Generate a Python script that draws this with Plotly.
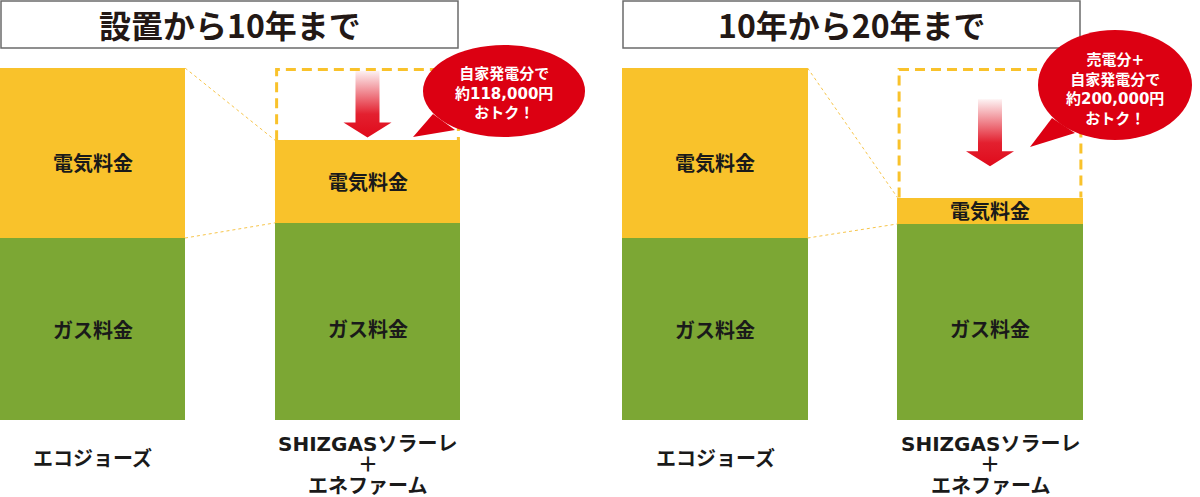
import plotly.graph_objects as go

# data (bar heights in relative units, 100 = エコジョーズ total)
categories = ["エコジョーズ", "SHIZGASソラーレ<br>＋<br>エネファーム"]
panel_titles = ["設置から10年まで", "10年から20年まで"]
gas_10y = [51.7, 56.0]
elec_10y = [48.3, 23.5]
gas_20y = [51.7, 55.7]
elec_20y = [48.3, 7.5]
segment_names = ["ガス料金", "電気料金"]
savings_text = [
    "自家発電分で<br>約118,000円<br>おトク！",
    "売電分+<br>自家発電分で<br>約200,000円<br>おトク！",
]

W, H = 1200, 497
FONT = "Noto Sans CJK JP"
MIXED = "DejaVu Sans, Noto Sans CJK JP"
YELLOW = "#F9C22B"
GREEN = "#7CA734"
RED = "#DC0012"
BAR_W = 0.673
PX_PER_UNIT = 3.52  # y pixels per data unit
X_UNIT = 275.0      # x pixels per category step


def px(x):
    return x / W


def py(y):
    return 1 - y / H


fig = go.Figure()
panels = [("x", gas_10y, elec_10y), ("x2", gas_20y, elec_20y)]

for xa, gas, elec in panels:
    fig.add_trace(go.Bar(x=[0, 1], y=gas, xaxis=xa, yaxis="y", width=BAR_W,
                         marker=dict(color=GREEN, line=dict(width=0)),
                         name=segment_names[0], hoverinfo="skip"))
    fig.add_trace(go.Bar(x=[0, 1], y=elec, xaxis=xa, yaxis="y", width=BAR_W,
                         marker=dict(color=YELLOW, line=dict(width=0)),
                         name=segment_names[1], hoverinfo="skip"))

    total0 = gas[0] + elec[0]
    total1 = gas[1] + elec[1]

    # segment labels
    for i in range(2):
        fig.add_annotation(x=i, y=gas[i] / 2, xref=xa, yref="y", showarrow=False,
                           xanchor="center", yanchor="middle",
                           text=segment_names[0], yshift=-7 if i == 1 else 0,
                           font=dict(family=FONT, size=20, color="#1a1a1a", weight="bold"))
        fig.add_annotation(x=i, y=gas[i] + elec[i] / 2, xref=xa, yref="y", showarrow=False,
                           xanchor="center", yanchor="middle",
                           text=segment_names[1], yshift=-9 if i == 0 else 0,
                           font=dict(family=FONT, size=20, color="#1a1a1a", weight="bold"))

    # connecting dotted lines
    for y0, y1 in [(total0, total1), (gas[0], gas[1])]:
        fig.add_shape(type="line", xref=xa, yref="y", x0=BAR_W / 2, x1=1 - BAR_W / 2,
                      y0=y0, y1=y1, line=dict(color="#F7C54A", width=1, dash="dot"))

    # dashed outline of the saved portion
    xl, xrt = 1 - BAR_W / 2 + 0.006, 1 + BAR_W / 2 - 0.006
    fig.add_shape(type="path", xref=xa, yref="y",
                  path=f"M {xl},{total1} L {xl},{total0 - 0.4} L {xrt},{total0 - 0.4} L {xrt},{total1}",
                  line=dict(color=YELLOW, width=3, dash="10px,6px"))

    # gradient arrow, centred in the gap
    gap_mid = (total0 + total1) / 2
    top = gap_mid + 9.5
    tip = gap_mid - 9.5
    head = tip + 15 / PX_PER_UNIT
    sw = 12 / X_UNIT
    hw = 24 / X_UNIT
    ax = [1 - sw, 1 + sw, 1 + sw, 1 + hw, 1, 1 - hw, 1 - sw, 1 - sw]
    ay = [top, top, head, head, tip, head, head, top]
    fig.add_trace(go.Scatter(x=ax, y=ay, xaxis=xa, yaxis="y", mode="lines",
                             fill="toself", line=dict(width=0),
                             fillgradient=dict(type="vertical",
                                               colorscale=[[0, "#E00A1B"], [0.35, "#E3202F"],
                                                           [1, "#FDF2F3"]]),
                             hoverinfo="skip", showlegend=False))

# title boxes
title_boxes = [(1, 458), (623, 1080)]
for (x0, x1), t in zip(title_boxes, panel_titles):
    fig.add_shape(type="rect", xref="paper", yref="paper", x0=px(x0), x1=px(x1),
                  y0=py(48), y1=py(1), line=dict(color="#6b6b6b", width=1.5),
                  fillcolor="white", layer="below")
    fig.add_annotation(x=px((x0 + x1) / 2), y=py(24), xref="paper", yref="paper",
                       xanchor="center", yanchor="middle",
                       showarrow=False, text=t,
                       font=dict(family=FONT, size=32, color="#231815", weight="bold"))

# speech bubbles
bubbles = [
    dict(cx=504, cy=91, rx=81, ry=46, tail=[(433, 114), (413, 137), (455, 130)], ty=93),
    dict(cx=1115, cy=85, rx=77, ry=55, tail=[(1052, 118), (1030, 147), (1075, 133)], ty=90),
]
for b, txt in zip(bubbles, savings_text):
    tail = b["tail"]
    path = "M " + " L ".join(f"{px(x)},{py(y)}" for x, y in tail) + " Z"
    fig.add_shape(type="path", xref="paper", yref="paper", path=path,
                  fillcolor=RED, line=dict(width=0))
    fig.add_shape(type="circle", xref="paper", yref="paper",
                  x0=px(b["cx"] - b["rx"]), x1=px(b["cx"] + b["rx"]),
                  y0=py(b["cy"] + b["ry"]), y1=py(b["cy"] - b["ry"]),
                  fillcolor=RED, line=dict(width=0))
    fig.add_annotation(x=px(b["cx"]), y=py(b["ty"]), xref="paper", yref="paper",
                       xanchor="center", yanchor="middle",
                       showarrow=False, text=txt, align="center",
                       font=dict(family=MIXED, size=15, color="white", weight="bold"))

# category labels under the bars
for xa in ["x", "x2"]:
    for i, cat in enumerate(categories):
        lines = cat.split("<br>")
        if len(lines) == 1:
            ys = [459]
        else:
            ys = [444 + 21 * k for k in range(len(lines))]
        for line, yy in zip(lines, ys):
            fig.add_annotation(x=i, y=py(yy), xref=xa, yref="paper", showarrow=False,
                               xanchor="center", yanchor="middle",
                               text=line,
                               font=dict(family=MIXED, size=20, color="#1a1a1a", weight="bold"))

axis_off = dict(showgrid=False, zeroline=False, showticklabels=False, showline=False,
                fixedrange=True)
fig.update_layout(
    width=W, height=H,
    margin=dict(l=0, r=0, t=0, b=0),
    barmode="stack",
    bargap=0,
    showlegend=False,
    plot_bgcolor="white",
    paper_bgcolor="white",
    xaxis=dict(domain=[0, 0.5], range=[-92.5 / X_UNIT, 507.5 / X_UNIT], anchor="y", **axis_off),
    xaxis2=dict(domain=[0.5, 1], range=[-115 / X_UNIT, 485 / X_UNIT], anchor="y", **axis_off),
    yaxis=dict(domain=[77 / H, 429 / H], range=[0, 100], **axis_off),
)

fig.write_html("out.html", config={"displayModeBar": False},
               post_script="document.body.style.margin='0';")
